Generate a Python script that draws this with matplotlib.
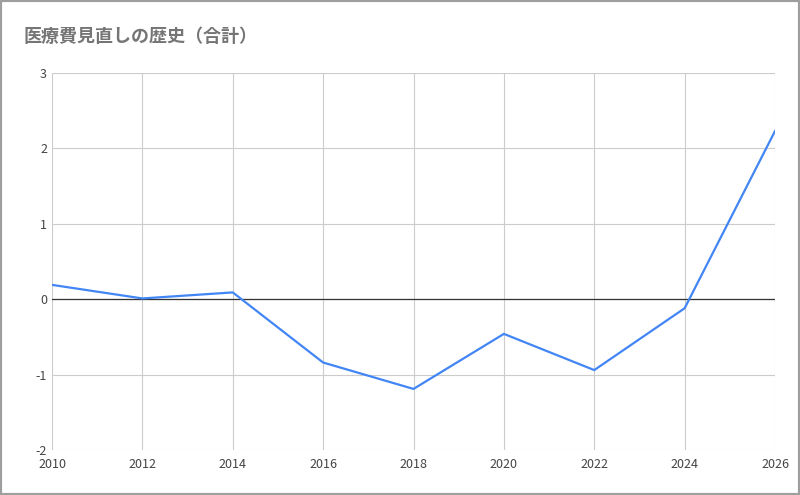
import matplotlib.pyplot as plt
from matplotlib.patches import Rectangle

plt.rcParams['font.family'] = ['Noto Sans CJK JP', 'DejaVu Sans']
plt.rcParams['axes.unicode_minus'] = False

years = [2010, 2012, 2014, 2016, 2018, 2020, 2022, 2024, 2026]
values = [0.19, 0.01, 0.09, -0.84, -1.19, -0.46, -0.94, -0.12, 2.23]
title = '医療費見直しの歴史（合計）'

fig = plt.figure(figsize=(8, 4.95), dpi=100)
ax = fig.add_axes([52 / 800, 45 / 495, 723 / 800, 377 / 495])

ax.plot(years, values, color='#4285f4', linewidth=1.6, zorder=3)
ax.axhline(0, color='#333333', linewidth=0.9, zorder=2)

ax.set_xlim(2010, 2026)
ax.set_ylim(-2, 3)
ax.set_xticks(years)
ax.set_yticks([-2, -1, 0, 1, 2, 3])
ax.grid(True, color='#cccccc', linewidth=0.8)
ax.set_axisbelow(True)
for s in ax.spines.values():
    s.set_visible(False)
ax.tick_params(length=0, labelsize=9, colors='#444444')
ax.tick_params(axis='x', pad=6)

fig.text(24 / 800, 1 - 37 / 495, title, fontsize=13, color='#757575',
         va='center', ha='left', fontweight='bold')
fig.patches.append(Rectangle((0, 0), 1, 1, transform=fig.transFigure,
                             fill=False, edgecolor='#9e9e9e', linewidth=3))

fig.savefig('out.png', dpi=100)
